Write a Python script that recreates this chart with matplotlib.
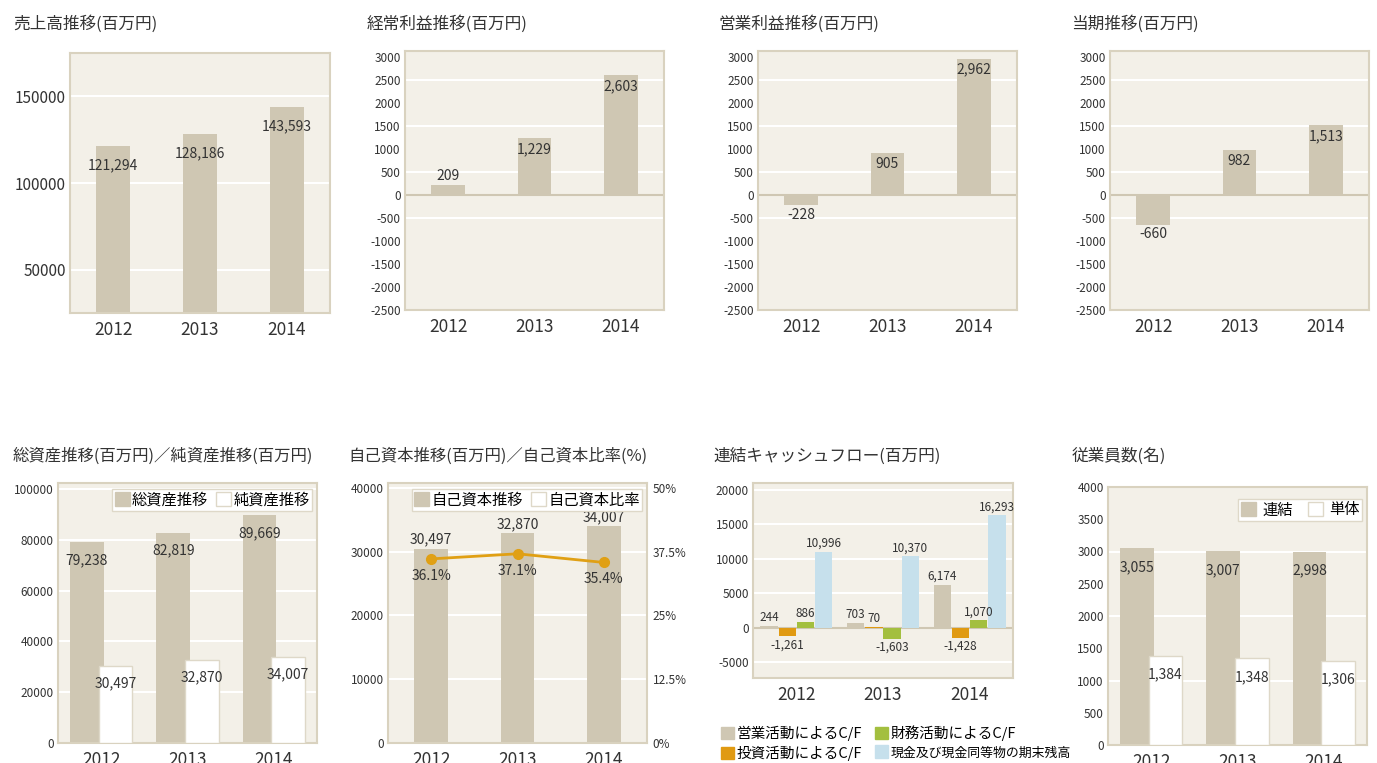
import matplotlib.pyplot as plt
from matplotlib.patches import Patch

plt.rcParams['font.family'] = ['Noto Sans CJK JP', 'DejaVu Sans']
plt.rcParams['axes.unicode_minus'] = False

# --- data ---
YEARS = ['2012', '2013', '2014']
SALES = [121294, 128186, 143593]
ORDINARY = [209, 1229, 2603]
OPERATING = [-228, 905, 2962]
NET_INCOME = [-660, 982, 1513]
TOTAL_ASSETS = [79238, 82819, 89669]
NET_ASSETS = [30497, 32870, 34007]
EQUITY = [30497, 32870, 34007]
EQUITY_RATIO = [36.1, 37.1, 35.4]
CF_OPERATING = [244, 703, 6174]
CF_INVESTING = [-1261, 70, -1428]
CF_FINANCING = [886, -1603, 1070]
CF_CASH = [10996, 10370, 16293]
EMP_CONSOLIDATED = [3055, 3007, 2998]
EMP_PARENT = [1384, 1348, 1306]

# --- style ---
W, H = 1377, 763
BG = '#F3F0E8'
TAN = '#CFC7B3'
SPINE = '#D9D2BF'
WHITE_EDGE = '#DED8C8'
ORANGE = '#E09A12'
GREEN = '#A3BF3F'
BLUE = '#C6E0EC'
LINE = '#E0A015'
TXT = '#333333'
PT = 0.72  # px -> pt at dpi 100

fig = plt.figure(figsize=(W / 100, H / 100), dpi=100)
x = list(range(len(YEARS)))


def make_axes(left, top, right, bottom, ylim, yticks, grid, ytick_size=8.5):
    ax = fig.add_axes([left / W, 1 - bottom / H, (right - left) / W, (bottom - top) / H])
    ax.set_facecolor(BG)
    for s in ax.spines.values():
        s.set_color(SPINE)
        s.set_linewidth(1.5)
    ax.set_xlim(-0.5, 2.5)
    ax.set_ylim(*ylim)
    ax.set_yticks(yticks)
    ax.set_xticks(x, YEARS)
    ax.tick_params(axis='y', length=0, pad=3, labelsize=ytick_size, colors=TXT)
    ax.tick_params(axis='x', length=0, pad=6, labelsize=12.5, colors=TXT)
    for g in grid:
        ax.axhline(g, color='white', lw=1.5, zorder=0.5)
    return ax


def title(px, py, text, size=12):
    fig.text(px / W, 1 - py / H, text, fontsize=size, color=TXT, ha='left', va='center')


def label(ax, xs, vals, where, off_px, size=10, fmt='{:,}'):
    for xi, v, w in zip(xs, vals, where):
        if w == 'in':
            ax.annotate(fmt.format(v), (xi, v), xytext=(0, -off_px * PT), textcoords='offset points',
                        ha='center', va='center', fontsize=size, color=TXT)
        elif w == 'above':
            ax.annotate(fmt.format(v), (xi, max(v, 0)), xytext=(0, 1.5), textcoords='offset points',
                        ha='center', va='bottom', fontsize=size, color=TXT)
        else:
            ax.annotate(fmt.format(v), (xi, min(v, 0)), xytext=(0, -1.5), textcoords='offset points',
                        ha='center', va='top', fontsize=size, color=TXT)


def box_legend(ax, handles, anchor, **kw):
    opts = dict(loc='upper right', bbox_to_anchor=anchor, ncol=2, fontsize=11,
                handlelength=1.0, handleheight=1.0, handletextpad=0.15, columnspacing=0.5,
                borderpad=0.15, borderaxespad=0, fancybox=False, edgecolor=WHITE_EDGE,
                framealpha=1)
    opts.update(kw)
    return ax.legend(handles=handles, **opts)


BW = 0.39

# 売上高推移
ax = make_axes(70, 53, 330, 313, (25000, 175000), [50000, 100000, 150000],
               [50000, 100000, 150000], ytick_size=11)
ax.bar(x, SALES, width=BW, color=TAN, zorder=2)
label(ax, x, SALES, ['in'] * 3, 19)
title(13, 24, '売上高推移(百万円)')

# 経常利益 / 営業利益 / 当期
small_ticks = list(range(-2500, 3001, 500))
small_grid = [2500, 1500, 500, -500]
for (l, r), vals, where, name, tx in [
    ((405, 664), ORDINARY, ['above', 'in', 'in'], '経常利益推移(百万円)', 367),
    ((758, 1017), OPERATING, ['below', 'in', 'in'], '営業利益推移(百万円)', 719),
    ((1110, 1369), NET_INCOME, ['below', 'in', 'in'], '当期推移(百万円)', 1071),
]:
    ax = make_axes(l, 51, r, 310, (-2500, 3130), small_ticks, small_grid)
    ax.axhline(0, color=TAN, lw=1.5, zorder=1)
    ax.bar(x, vals, width=BW, color=TAN, zorder=2)
    label(ax, x, vals, where, 11)
    title(tx, 24, name)

# 総資産 / 純資産
OFF = 0.165
ax = make_axes(58, 483, 317, 743, (0, 102400), list(range(0, 100001, 20000)),
               list(range(20000, 100001, 20000)))
ax.bar([i - OFF for i in x], TOTAL_ASSETS, width=BW, color=TAN, zorder=2)
ax.bar([i + OFF for i in x], NET_ASSETS, width=BW, color='white', edgecolor=WHITE_EDGE, lw=1, zorder=3)
label(ax, [i - OFF for i in x], TOTAL_ASSETS, ['in'] * 3, 18)
label(ax, [i + OFF for i in x], NET_ASSETS, ['in'] * 3, 18)
box_legend(ax, [Patch(color=TAN, label='総資産推移'),
                Patch(facecolor='white', edgecolor=WHITE_EDGE, label='純資産推移')],
           (0.981, 0.977))
title(13, 456, '総資産推移(百万円)／純資産推移(百万円)', size=11.8)

# 自己資本 / 自己資本比率
ax = make_axes(388, 483, 647, 743, (0, 40784), list(range(0, 40001, 10000)),
               list(range(10000, 40001, 10000)))
ax.bar(x, EQUITY, width=BW, color=TAN, zorder=2)
label(ax, x, EQUITY, ['above'] * 3, 0)
ax2 = ax.twinx()
ax2.set_ylim(0, 50.98)
ax2.set_yticks([0, 12.5, 25, 37.5, 50], ['0%', '12.5%', '25%', '37.5%', '50%'])
ax2.tick_params(axis='y', length=0, pad=4, labelsize=8.5, colors=TXT)
for s in ax2.spines.values():
    s.set_visible(False)
ax2.plot(x, EQUITY_RATIO, color=LINE, lw=2, marker='o', ms=7, zorder=4)
for xi, v in zip(x, EQUITY_RATIO):
    ax2.annotate(f'{v}%', (xi, v), xytext=(0, -17 * PT), textcoords='offset points',
                 ha='center', va='center', fontsize=10, color=TXT)
box_legend(ax2, [Patch(color=TAN, label='自己資本推移'),
                 Patch(facecolor='white', edgecolor=WHITE_EDGE, label='自己資本比率')],
           (0.981, 0.977))
title(348, 456, '自己資本推移(百万円)／自己資本比率(%)', size=11.8)

# 連結キャッシュフロー
ax = make_axes(753, 483, 1013, 678, (-7300, 21000), list(range(-5000, 20001, 5000)),
               [-5000, 5000, 10000, 15000, 20000])
ax.axhline(0, color=TAN, lw=1.5, zorder=1)
CW = 0.2
series = [(CF_OPERATING, TAN, '営業活動によるC/F'),
          (CF_INVESTING, ORANGE, '投資活動によるC/F'),
          (CF_FINANCING, GREEN, '財務活動によるC/F'),
          (CF_CASH, BLUE, '現金及び現金同等物の期末残高')]
handles = []
for k, (vals, col, name) in enumerate(series):
    xs = [i + (k - 1.5) * 0.21 for i in x]
    ax.bar(xs, vals, width=CW, color=col, zorder=2)
    label(ax, xs, vals, ['above' if v >= 0 else 'below' for v in vals], 0, size=8.5)
    handles.append(Patch(color=col, label=name))
leg = fig.legend(handles=handles, loc='upper left', bbox_to_anchor=(714 / W, 1 - 718 / H), ncol=2,
                 fontsize=10.5, handlelength=0.9, handleheight=0.9, handletextpad=0.15,
                 columnspacing=0.9, labelspacing=0.3, borderpad=0, frameon=False)
leg.get_texts()[3].set_fontsize(9.3)
title(713, 456, '連結キャッシュフロー(百万円)')

# 従業員数
ax = make_axes(1108, 487, 1367, 745, (0, 4000), list(range(0, 4001, 500)),
               [1000, 2000, 3000])
ax.bar([i - OFF for i in x], EMP_CONSOLIDATED, width=BW, color=TAN, zorder=2)
ax.bar([i + OFF for i in x], EMP_PARENT, width=BW, color='white', edgecolor=WHITE_EDGE, lw=1, zorder=3)
label(ax, [i - OFF for i in x], EMP_CONSOLIDATED, ['in'] * 3, 19)
label(ax, [i + OFF for i in x], EMP_PARENT, ['in'] * 3, 19)
box_legend(ax, [Patch(color=TAN, label='連結'),
                Patch(facecolor='white', edgecolor=WHITE_EDGE, label='単体')],
           (0.981, 0.953), handletextpad=0.4, columnspacing=1.0)
title(1072, 456, '従業員数(名)')

fig.savefig('out.png', dpi=100)
